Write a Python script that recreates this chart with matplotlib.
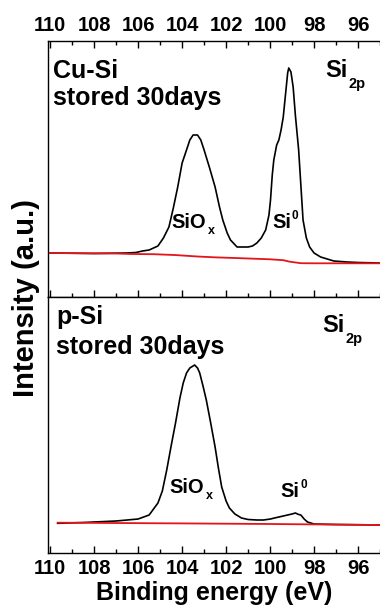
import matplotlib
matplotlib.use("Agg")
import matplotlib.pyplot as plt
from matplotlib.ticker import MultipleLocator

plt.rcParams['font.family'] = ['Liberation Sans', 'DejaVu Sans']
plt.rcParams['font.weight'] = 'bold'

# Cu-Si, stored 30 days (binding energy in eV, intensity in a.u.)
cu_energy = [110.0, 108.0, 106.5, 106.1, 105.8, 105.5, 105.1, 104.85, 104.6, 104.4,
             104.2, 104.0, 103.8, 103.65, 103.5, 103.3, 103.15, 103.0, 102.75, 102.5,
             102.3, 102.15, 101.95, 101.8, 101.5, 101.2, 101.0, 100.8, 100.6, 100.4,
             100.2, 100.05, 99.98, 99.9, 99.83, 99.7, 99.6, 99.5, 99.4, 99.3,
             99.2, 99.15, 99.05, 98.95, 98.85, 98.7, 98.6, 98.5, 98.35, 98.2,
             98.0, 97.7, 97.4, 97.1, 96.5, 96.0, 95.0]
cu_intensity = [44, 43.5, 44, 44.5, 46, 47, 51, 59, 70, 89,
                110, 134, 147, 157, 162, 162, 157, 147, 129, 110,
                90, 77, 64, 57, 50, 50, 50, 51, 54, 59,
                67, 82, 97, 122, 137, 152, 157, 167, 180, 202,
                224, 229, 225, 210, 182, 147, 112, 77, 59, 50,
                44, 40, 38, 36, 35, 34.5, 34]
cu_bg_energy = [110.0, 107.0, 106.3, 105.3, 104.35, 103.3, 102.55, 101.6, 100.0,
                99.4, 99.1, 98.6, 98.0, 97.3, 95.0]
cu_bg = [44, 43.5, 43, 42.8, 42, 40.5, 39.7, 39, 37.7, 36.8, 35.3, 33.8, 33.7, 33.7, 33.7]

# p-Si, stored 30 days
p_energy = [109.66, 108.5, 107.0, 106.0, 105.5, 105.1, 104.9, 104.7, 104.5, 104.3,
            104.1, 103.95, 103.8, 103.65, 103.43, 103.3, 103.2, 103.05, 102.9, 102.7,
            102.5, 102.35, 102.2, 102.0, 101.85, 101.6, 101.3, 101.0, 100.6, 100.3,
            99.98, 99.8, 99.6, 99.4, 99.2, 99.0, 98.85, 98.7, 98.6, 98.45,
            98.3, 98.0, 97.0, 95.0]
p_intensity = [29.7, 30.5, 32, 34, 38, 50, 62, 83, 107, 130,
               155, 170, 180, 185, 188, 185, 180, 167, 153, 130,
               106, 85, 66, 52, 45, 39, 35, 33.5, 33, 33,
               34, 35, 36, 37, 38, 39, 40, 38.5, 38, 34,
               31, 29, 28.5, 28]
p_bg_energy = [109.66, 104.0, 100.0, 95.0]
p_bg = [30.3, 29.6, 29.0, 28.0]

tick_values = [110, 108, 106, 104, 102, 100, 98, 96]

fig = plt.figure(figsize=(3.8, 6.07), dpi=100)
ax_top = fig.add_axes([48 / 380, 310 / 607, 332 / 380, 256 / 607])
ax_bot = fig.add_axes([48 / 380, 54 / 607, 332 / 380, 256 / 607])

data = [(cu_energy, cu_intensity, cu_bg_energy, cu_bg),
        (p_energy, p_intensity, p_bg_energy, p_bg)]

for ax, (e, i, be, bg) in zip([ax_top, ax_bot], data):
    ax.plot(e, i, color='black', lw=1.2)
    ax.plot(be, bg, color='#e3141b', lw=1.3)
    ax.set_xticks(tick_values)
    ax.xaxis.set_minor_locator(MultipleLocator(1))
    ax.set_xlim(110.1, 95.0)
    ax.set_ylim(0, 256)
    ax.set_yticks([])
    ax.spines['right'].set_visible(False)
    for s in ['left', 'top', 'bottom']:
        ax.spines[s].set_linewidth(1.0)
    ax.tick_params(axis='x', which='major', direction='in', length=5, width=1,
                   labelsize=14.5)
    ax.tick_params(axis='x', which='minor', direction='in', length=3, width=1)

ax_top.tick_params(axis='x', which='both', top=True, bottom=True,
                   labeltop=True, labelbottom=False, pad=4.5)
ax_bot.tick_params(axis='x', which='both', top=False, bottom=True,
                   labeltop=False, labelbottom=True, pad=4)

for ax in [ax_top, ax_bot]:
    for tick in ax.xaxis.get_major_ticks():
        tick.label1.set_fontweight('bold')
        tick.label2.set_fontweight('bold')

# sample labels
for ax, name, x0, y1, y2 in [(ax_top, "Cu-Si", 0.015, 0.855, 0.75),
                             (ax_bot, "p-Si", 0.024, 0.895, 0.777)]:
    ax.text(x0, y1, name, transform=ax.transAxes, fontsize=18, va='baseline')
    ax.text(x0, y2, "stored 30days", transform=ax.transAxes, fontsize=18, va='baseline')

# Si 2p core level label
for ax, x0, y0 in [(ax_top, 0.834, 0.859), (ax_bot, 0.825, 0.863)]:
    ax.text(x0, y0, "Si", transform=ax.transAxes, fontsize=17, va='baseline')
    ax.text(x0 + 0.072, y0 - 0.042, "2p", transform=ax.transAxes, fontsize=10.5, va='baseline')

# peak labels
peak_pos = [(ax_top, 0.373, 0.27, 0.675, 0.27), (ax_bot, 0.367, 0.234, 0.701, 0.219)]
for ax, xo, yo, xs, ys in peak_pos:
    ax.text(xo, yo, "SiO", transform=ax.transAxes, fontsize=14.5, va='baseline')
    ax.text(xo + 0.108, yo - 0.024, "x", transform=ax.transAxes, fontsize=9, va='baseline')
    ax.text(xs, ys, "Si", transform=ax.transAxes, fontsize=14.5, va='baseline')
    ax.text(xs + 0.059, ys + 0.036, "0", transform=ax.transAxes, fontsize=8.5, va='baseline')

fig.text(214 / 380, 1 - 593 / 607, "Binding energy (eV)", fontsize=18,
         ha='center', va='center')
fig.text(26 / 380, 1 - 298 / 607, "Intensity (a.u.)", rotation=90, fontsize=21,
         ha='center', va='center')

fig.savefig("out.png", dpi=100)
